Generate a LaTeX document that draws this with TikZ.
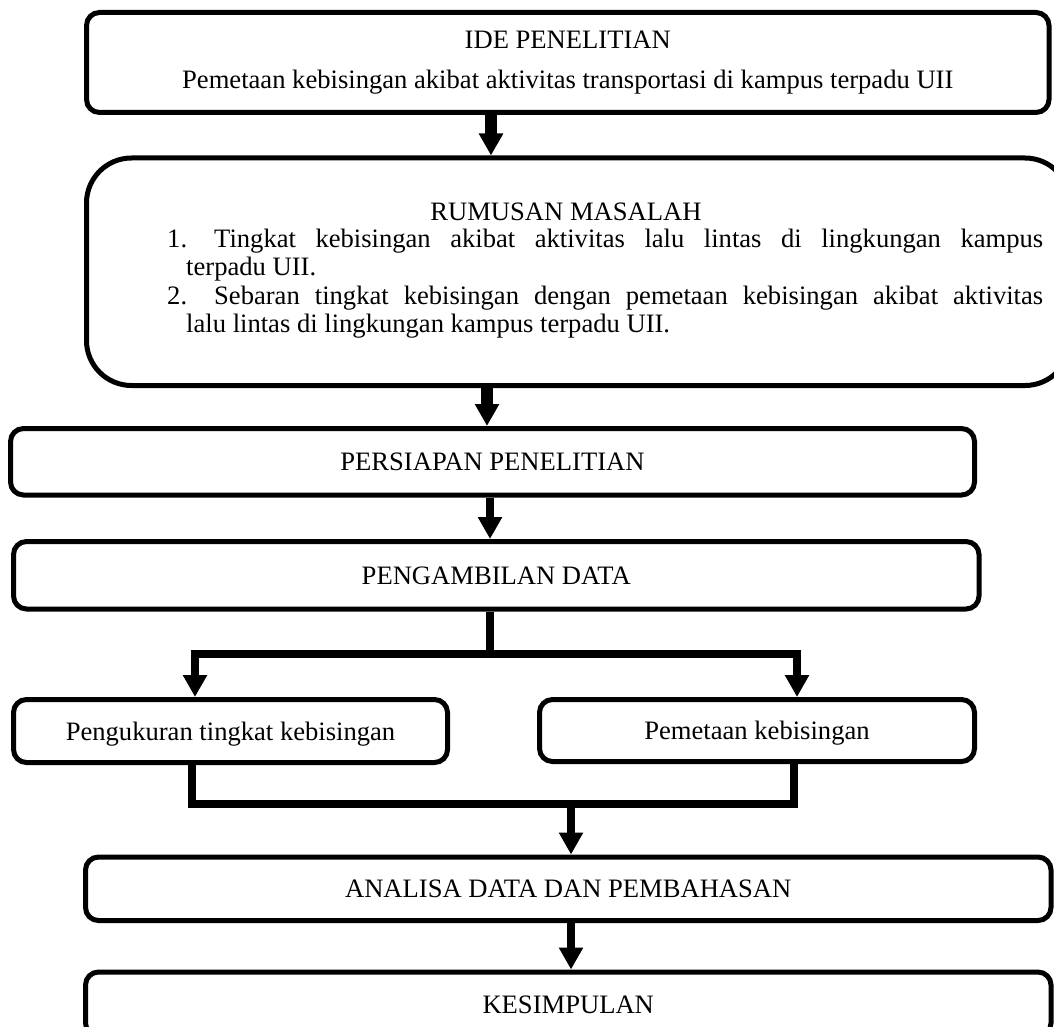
\documentclass[tikz,border=0pt]{standalone}
\usepackage{fontspec}
\setmainfont{Liberation Serif}
\usetikzlibrary{arrows.meta}
\begin{document}
\begin{tikzpicture}[x=1pt,y=-1pt,
  box/.style={draw, line width=5pt, rounded corners=13pt, inner sep=0pt, align=center,
              font=\fontsize{26.6}{40}\selectfont},
  onebox/.style={box, text height=24pt, text depth=6pt},
  txt/.style={inner sep=0pt, font=\fontsize{26.6}{28}\selectfont},
  conn/.style={line width=8pt},
  arr/.style={line width=8pt, -{Triangle[length=22pt,width=23pt]}},
  thickarr/.style={line width=12pt, -{Triangle[length=22pt,width=23pt]}},
]
\useasboundingbox (0,0) rectangle (1054,1027);
\clip (0,0) rectangle (1054,1027);

% boxes
\node[box, minimum width=962.5pt, minimum height=100pt] (ide) at (567.75,62.5)
  {IDE PENELITIAN\\Pemetaan kebisingan akibat aktivitas transportasi di kampus terpadu UII};
\node[box, rounded corners=45pt, minimum width=983.5pt, minimum height=227.5pt] (rumusan) at (578.25,271.75) {};
\node[txt, anchor=base] (rtitle) at (566,220) {RUMUSAN MASALAH};
\node[txt, anchor=base west] (rlist) at (186,247) {\parbox[t]{857pt}{\fontsize{26.6}{28.5}\selectfont\noindent
  \hspace*{-19pt}\makebox[47pt][l]{1.}\makebox[829pt][s]{Tingkat kebisingan akibat aktivitas lalu lintas di lingkungan kampus}\\
  terpadu UII.\\
  \hspace*{-19pt}\makebox[47pt][l]{2.}\makebox[829pt][s]{Sebaran tingkat kebisingan dengan pemetaan kebisingan akibat aktivitas}\\
  lalu lintas di lingkungan kampus terpadu UII.}};
\node[onebox, minimum width=964pt, minimum height=66.5pt] (persiapan) at (492.5,461.75) {PERSIAPAN PENELITIAN};
\node[onebox, minimum width=965.5pt, minimum height=67.5pt] (pengambilan) at (496.25,575.25) {PENGAMBILAN DATA};
\node[onebox, minimum width=434pt, minimum height=63pt] (pengukuran) at (230.5,731) {Pengukuran tingkat kebisingan};
\node[onebox, minimum width=435pt, minimum height=62pt] (pemetaan) at (757,730.5) {Pemetaan kebisingan};
\node[onebox, minimum width=965.5pt, minimum height=63.5pt] (analisa) at (568.25,888.75) {ANALISA DATA DAN PEMBAHASAN};
\node[onebox, minimum width=965.5pt, minimum height=64pt] (kesimpulan) at (568.25,1004) {KESIMPULAN};

% connector coordinates
\coordinate (a1) at (491,0);
\coordinate (a2) at (487,0);
\coordinate (a3) at (490,0);
\coordinate (sp) at (490,654);
\coordinate (spl) at (195,654);
\coordinate (spr) at (797,654);
\coordinate (mgl) at (192,804);
\coordinate (mg) at (571,804);
\coordinate (mgr) at (794,804);
\coordinate (a5) at (571,0);

% connectors
\draw[thickarr] (ide.south -| a1) -- (rumusan.north -| a1);
\draw[thickarr] (rumusan.south -| a2) -- (persiapan.north -| a2);
\draw[arr] (persiapan.south -| a3) -- (pengambilan.north -| a3);
\draw[conn] (pengambilan.south -| sp) -- (sp);
\draw[arr] (sp) -- (spl) -- (pengukuran.north -| spl);
\draw[arr] (sp) -- (spr) -- (pemetaan.north -| spr);
\draw[conn] (pengukuran.south -| mgl) -- (mgl) -- (mgr) -- (pemetaan.south -| mgr);
\draw[arr] (mg) -- (analisa.north -| mg);
\draw[arr] (analisa.south -| a5) -- (kesimpulan.north -| a5);
\end{tikzpicture}
\end{document}
